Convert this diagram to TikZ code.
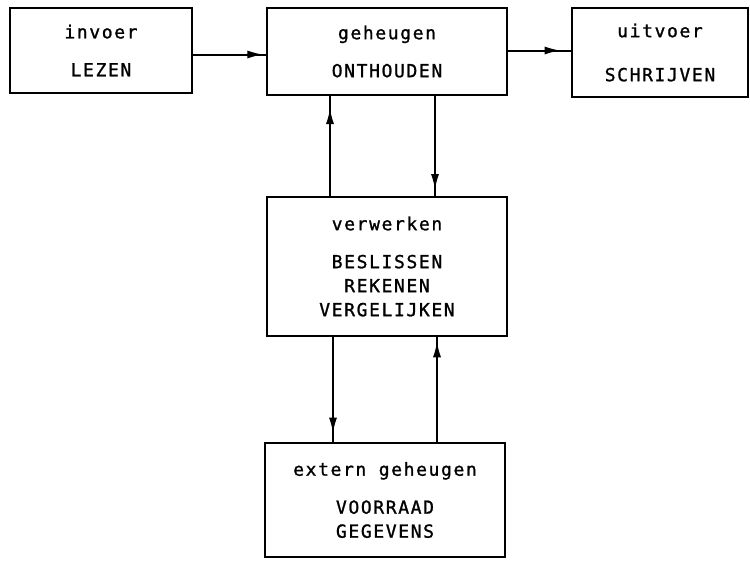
\documentclass[tikz,border=0pt]{standalone}
\usepackage{fontspec}
\newfontfamily\ocrfont[LetterSpace=9,FakeBold=1.2]{DejaVu Sans Mono}
\usetikzlibrary{arrows.meta,decorations.markings}

\begin{document}
\begin{tikzpicture}[x=1pt,y=-1pt,
  box/.style={draw,line width=2pt,inner sep=0pt,align=center,
    font=\ocrfont\fontsize{18}{24}\selectfont},
  flow/.style={line width=2pt,postaction={decorate},
    decoration={markings,mark=at position #1 with {\arrow[line width=1pt]{Latex[length=15pt,width=8pt]}}}},
  flow/.default=0.9]
\useasboundingbox (0,0) rectangle (750,560);
% bovenste rij
\node[box,minimum width=182pt,minimum height=85pt] (invoer) at (101,50.5)
  {invoer\\[14pt]LEZEN};
\node[box,minimum width=240pt,minimum height=87pt] (geheugen) at (387,51.5)
  {geheugen\\[14pt]ONTHOUDEN};
\node[box,minimum width=176pt,minimum height=89pt] (uitvoer) at (660,52.5)
  {uitvoer\\[20pt]SCHRIJVEN};
% midden en onder
\node[box,minimum width=240pt,minimum height=139pt] (verwerken) at (387,266.5)
  {verwerken\\[14pt]BESLISSEN\\REKENEN\\VERGELIJKEN};
\node[box,minimum width=240pt,minimum height=114pt] (extern) at (385,500)
  {extern geheugen\\[14pt]VOORRAAD\\GEGEVENS};
% verbindingen
\draw[flow=0.95] ([yshift=-4pt]invoer.east) -- ([yshift=-4pt]invoer.east -| geheugen.west);
\draw[flow=0.82] ([yshift=1pt]geheugen.east) -- ([yshift=1pt]geheugen.east -| uitvoer.west);
\draw[flow=0.87] ([xshift=-57pt]verwerken.north) -- ([xshift=-57pt]verwerken.north |- geheugen.south);
\draw[flow=0.93] ([xshift=48pt]geheugen.south) -- ([xshift=48pt]geheugen.south |- verwerken.north);
\draw[flow=0.91] ([xshift=-54pt]verwerken.south) -- ([xshift=-54pt]verwerken.south |- extern.north);
\draw[flow=0.95] ([xshift=50pt]verwerken.south |- extern.north) -- ([xshift=50pt]verwerken.south);
\end{tikzpicture}
\end{document}
